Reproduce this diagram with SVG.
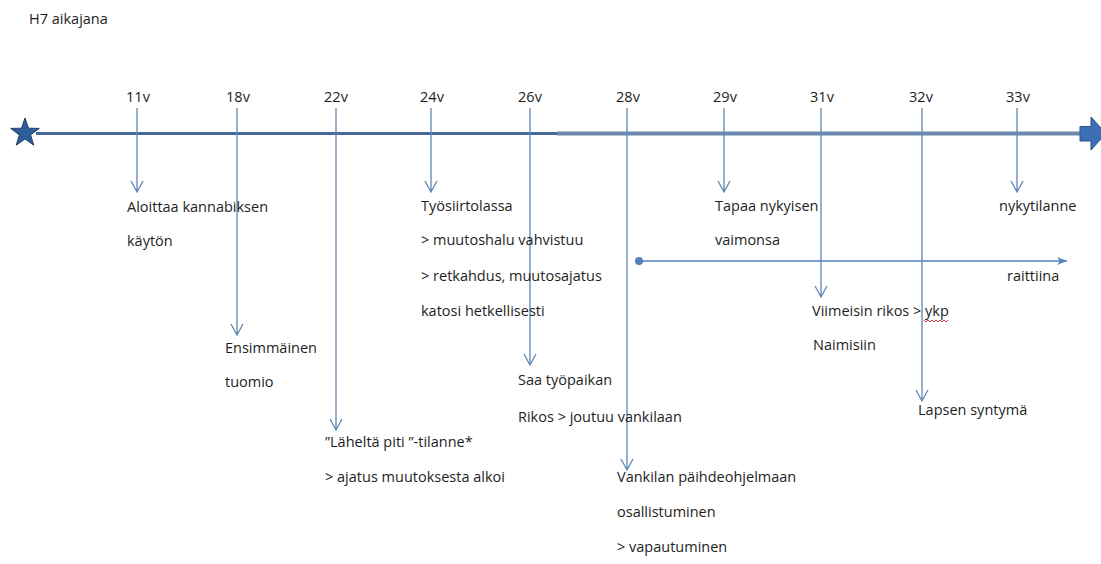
<svg xmlns="http://www.w3.org/2000/svg" width="1101" height="564" viewBox="0 0 1101 564">
<defs>
<style>
text{font-family:"Open Sans","Liberation Sans",sans-serif;font-size:14.5px;fill:#1e1e1e}
.age{text-anchor:middle}
.tick{stroke:#5f87b3;stroke-width:1.3;fill:none}
</style>
<marker id="tri" viewBox="0 0 10 8" refX="10" refY="4" markerWidth="12" markerHeight="8" markerUnits="userSpaceOnUse" orient="auto">
<path d="M0,0 L10,4 L0,8 L3,4 Z" fill="#4f81bd"/>
</marker>
</defs>
<rect width="1101" height="564" fill="#ffffff"/>
<text x="29" y="24">H7 aikajana</text>

<g id="axis">
<line x1="36" y1="133.5" x2="557" y2="133.5" stroke="#46689a" stroke-width="3"/>
<line x1="557" y1="133.5" x2="1082" y2="133.5" stroke="#6f88ad" stroke-width="4"/>
<polygon points="25,118 28.5,128.2 39.3,128.4 30.6,134.9 33.8,145.2 25,139 16.2,145.2 19.4,134.9 10.7,128.4 21.5,128.2" fill="#2f5d97" stroke="#1f3f6b" stroke-width="1"/>
<polygon points="1080,126.5 1091,126.5 1091,117 1106,133.5 1091,150 1091,141 1080,141" fill="#3c6fb4" stroke="#2a5389" stroke-width="1"/>
</g>

<g id="connectors">
<path class="tick" d="M137,108 V192 M131,181 L137,192 L143,181"/>
<path class="tick" d="M237,108 V335 M231,324 L237,335 L243,324"/>
<path class="tick" d="M336,108 V430 M330,419 L336,430 L342,419"/>
<path class="tick" d="M431,108 V192 M425,181 L431,192 L437,181"/>
<path class="tick" d="M530,108 V365 M524,354 L530,365 L536,354"/>
<path class="tick" d="M627,108 V470 M621,459 L627,470 L633,459"/>
<path class="tick" d="M724,108 V192 M718,181 L724,192 L730,181"/>
<path class="tick" d="M821,108 V297 M815,286 L821,297 L827,286"/>
<path class="tick" d="M922,108 V401 M916,390 L922,401 L928,390"/>
<path class="tick" d="M1017,108 V192 M1011,181 L1017,192 L1023,181"/>
<line x1="639" y1="261" x2="1067" y2="261" stroke="#4f81bd" stroke-width="1.3" marker-end="url(#tri)"/>
<circle cx="639" cy="261" r="4" fill="#4f81bd"/>
</g>

<g id="n11">
<text class="age" x="138" y="102">11v</text>
<text x="127" y="212">Aloittaa kannabiksen</text>
<text x="127" y="246">käytön</text>
</g>
<g id="n18">
<text class="age" x="238" y="102">18v</text>
<text x="225" y="353">Ensimmäinen</text>
<text x="225" y="387">tuomio</text>
</g>
<g id="n22">
<text class="age" x="336" y="102">22v</text>
<text x="325" y="447">”Läheltä piti ”-tilanne*</text>
<text x="325" y="482">&gt; ajatus muutoksesta alkoi</text>
</g>
<g id="n24">
<text class="age" x="432" y="102">24v</text>
<text x="421" y="211">Työsiirtolassa</text>
<text x="421" y="245">&gt; muutoshalu vahvistuu</text>
<text x="421" y="281">&gt; retkahdus, muutosajatus</text>
<text x="421" y="316">katosi hetkellisesti</text>
</g>
<g id="n26">
<text class="age" x="530" y="102">26v</text>
<text x="518" y="385">Saa työpaikan</text>
<text x="518" y="422">Rikos &gt; joutuu vankilaan</text>
</g>
<g id="n28">
<text class="age" x="628" y="102">28v</text>
<text x="617" y="482">Vankilan päihdeohjelmaan</text>
<text x="617" y="517">osallistuminen</text>
<text x="617" y="552">&gt; vapautuminen</text>
</g>
<g id="n29">
<text class="age" x="725" y="102">29v</text>
<text x="715" y="211">Tapaa nykyisen</text>
<text x="715" y="245">vaimonsa</text>
</g>
<g id="nraitt">
<text x="1007" y="281">raittiina</text>
</g>
<g id="n31">
<text class="age" x="822" y="102">31v</text>
<text x="812" y="316">Viimeisin rikos &gt; ykp</text>
<path d="M924,320 l2,2 l2,-2 l2,2 l2,-2 l2,2 l2,-2 l2,2 l2,-2 l2,2 l2,-2 l2,2 l2,-2" fill="none" stroke="#d03030" stroke-width="0.9"/>
<text x="813" y="350">Naimisiin</text>
</g>
<g id="n32">
<text class="age" x="921" y="102">32v</text>
<text x="918" y="415">Lapsen syntymä</text>
</g>
<g id="n33">
<text class="age" x="1018" y="102">33v</text>
<text x="999" y="211">nykytilanne</text>
</g>
</svg>
